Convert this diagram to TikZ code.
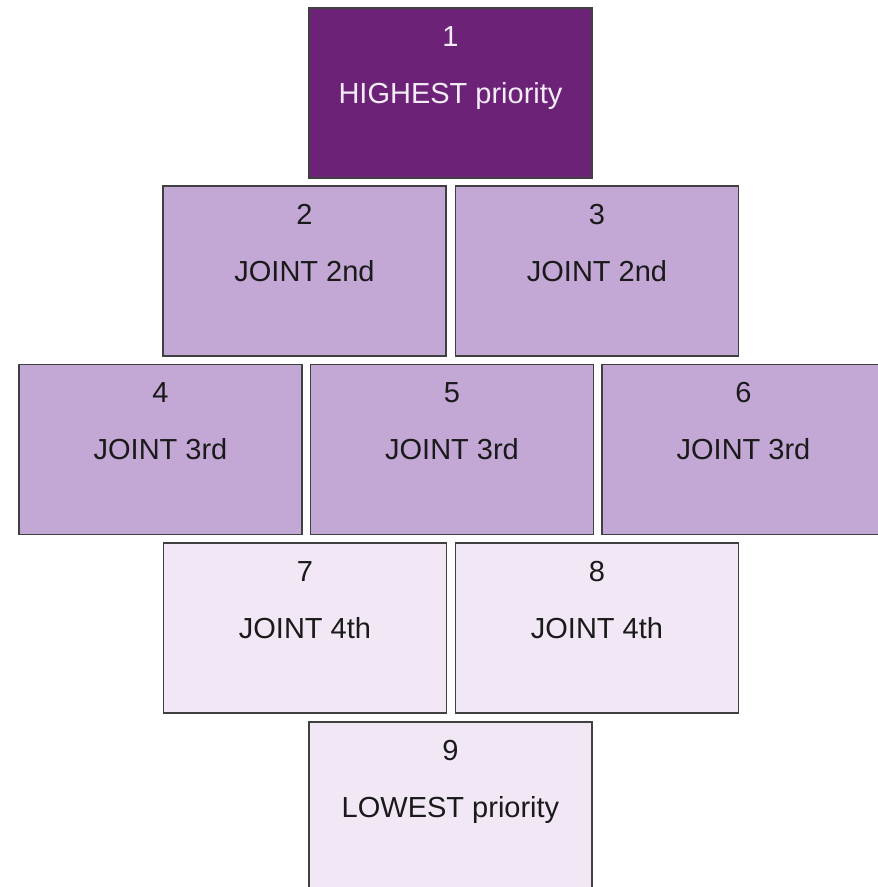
\documentclass[tikz,border=0pt]{standalone}
\usepackage{fontspec}
\setmainfont{Liberation Sans}
\definecolor{darkp}{HTML}{6C2277}
\definecolor{midp}{HTML}{C3A8D6}
\definecolor{lightp}{HTML}{F2E8F5}
\definecolor{edge}{HTML}{404040}
\definecolor{paletext}{HTML}{F4ECF7}
\definecolor{ink}{HTML}{1A1A1A}
\tikzset{
  box/.style={draw=edge, line width=1.4pt, rectangle, minimum width=283pt, minimum height=170pt, inner sep=0pt},
  txt/.style={anchor=base, inner sep=0pt, font=\fontsize{29pt}{34pt}\selectfont},
}
\begin{document}
\begin{tikzpicture}[x=1pt,y=-1pt]
\useasboundingbox (0,0) rectangle (878,887);
\clip (0,0) rectangle (878,887);
\fill[white] (0,0) rectangle (878,887);
\node[box, fill=darkp]  (b1) at (450.5,93) {};
\node[box, fill=midp]   (b2) at (304.5,271) {};
\node[box, fill=midp]   (b3) at (597,271) {};
\node[box, fill=midp]   (b4) at (160.5,449.5) {};
\node[box, fill=midp]   (b5) at (452,449.5) {};
\node[box, fill=midp]   (b6) at (743.5,449.5) {};
\node[box, fill=lightp] (b7) at (305,628) {};
\node[box, fill=lightp] (b8) at (597,628) {};
\node[box, fill=lightp] (b9) at (450.5,807) {};
\foreach \b/\n/\t/\c in {b1/1/HIGHEST priority/paletext, b2/2/JOINT 2nd/ink, b3/3/JOINT 2nd/ink, b4/4/JOINT 3rd/ink, b5/5/JOINT 3rd/ink, b6/6/JOINT 3rd/ink, b7/7/JOINT 4th/ink, b8/8/JOINT 4th/ink, b9/9/LOWEST priority/ink}{
  \node[txt, text=\c] (\b n) at ([yshift=-39pt]\b.north) {\n};
  \node[txt, text=\c] (\b t) at ([yshift=-96pt]\b.north) {\t};
}
\end{tikzpicture}
\end{document}
